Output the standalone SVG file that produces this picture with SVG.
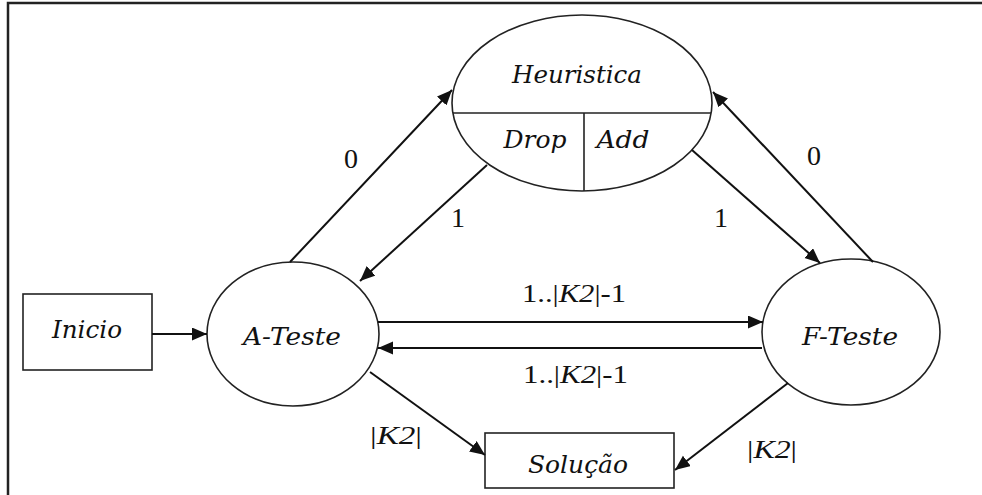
<svg xmlns="http://www.w3.org/2000/svg" width="982" height="495" viewBox="0 0 982 495">
<style>
.shape{fill:#fff;stroke:#222;stroke-width:1.6}
.div{stroke:#222;stroke-width:1.6;fill:none}
.node{font-family:"DejaVu Serif","Liberation Serif",serif;font-style:italic;font-size:24px;fill:#111}
.lbl{font-family:"Liberation Serif","Times New Roman",serif;font-size:25px;fill:#111}
.kk{font-family:"Liberation Serif","Times New Roman",serif;font-size:26px;fill:#111}
.big{font-family:"Liberation Serif","Times New Roman",serif;font-size:28px;fill:#111}
.it{font-style:italic}
.conn line{stroke:#111;stroke-width:2}
</style>
<defs>
<marker id="ah" markerUnits="userSpaceOnUse" markerWidth="16" markerHeight="14" refX="15" refY="6.5" orient="auto">
<path d="M0,0 L15,6.5 L0,13 z" fill="#111"/>
</marker>
</defs>
<rect x="0" y="0" width="982" height="495" fill="#fff"/>
<path d="M8,495 V3 H982" fill="none" stroke="#222" stroke-width="2.5"/>

<g id="heuristica">
<ellipse class="shape" cx="582" cy="103" rx="130" ry="88"/>
<line class="div" x1="453" y1="113" x2="711" y2="113"/>
<line class="div" x1="584" y1="113" x2="584" y2="191"/>
<text class="node" x="577" y="83" text-anchor="middle" textLength="130" lengthAdjust="spacingAndGlyphs">Heuristica</text>
<text class="node" x="535" y="148" text-anchor="middle" textLength="63" lengthAdjust="spacingAndGlyphs">Drop</text>
<text class="node" x="623" y="148" text-anchor="middle" textLength="53" lengthAdjust="spacingAndGlyphs">Add</text>
</g>

<g id="inicio">
<rect class="shape" x="23" y="294" width="129" height="76"/>
<text class="node" x="87" y="338" text-anchor="middle" textLength="70" lengthAdjust="spacingAndGlyphs">Inicio</text>
</g>

<g id="ateste">
<ellipse class="shape" cx="293" cy="334" rx="86" ry="72"/>
<text class="node" x="292" y="345" text-anchor="middle" textLength="98" lengthAdjust="spacingAndGlyphs">A-Teste</text>
</g>

<g id="fteste">
<ellipse class="shape" cx="851" cy="332" rx="89" ry="73"/>
<text class="node" x="850" y="345" text-anchor="middle" textLength="96" lengthAdjust="spacingAndGlyphs">F-Teste</text>
</g>

<g id="solucao">
<rect class="shape" x="485" y="433" width="189" height="55"/>
<text class="node" x="578" y="473" text-anchor="middle" textLength="100" lengthAdjust="spacingAndGlyphs">Solução</text>
</g>

<g id="connectors" class="conn">
<line x1="152" y1="334" x2="207" y2="334" marker-end="url(#ah)"/>
<line x1="378" y1="322" x2="763" y2="322" marker-end="url(#ah)"/>
<line x1="762" y1="348" x2="378" y2="348" marker-end="url(#ah)"/>
<line x1="370" y1="372" x2="485" y2="455" marker-end="url(#ah)"/>
<line x1="788" y1="383" x2="675" y2="470" marker-end="url(#ah)"/>
<line x1="290" y1="262" x2="452" y2="90" marker-end="url(#ah)"/>
<line x1="487" y1="165" x2="360" y2="281" marker-end="url(#ah)"/>
<line x1="692" y1="150" x2="820" y2="263" marker-end="url(#ah)"/>
<line x1="873" y1="262" x2="713" y2="92" marker-end="url(#ah)"/>
</g>

<g id="labels">
<text class="big" x="351" y="168" text-anchor="middle">0</text>
<text class="big" x="458" y="227" text-anchor="middle">1</text>
<text class="big" x="721" y="227" text-anchor="middle">1</text>
<text class="big" x="814" y="165" text-anchor="middle">0</text>
<text class="lbl" x="522" y="302" textLength="104" lengthAdjust="spacingAndGlyphs">1..|<tspan class="it">K2</tspan>|-1</text>
<text class="lbl" x="523" y="383" textLength="105" lengthAdjust="spacingAndGlyphs">1..|<tspan class="it">K2</tspan>|-1</text>
<text class="kk" x="370" y="444" textLength="52" lengthAdjust="spacingAndGlyphs">|<tspan class="it">K2</tspan>|</text>
<text class="kk" x="747" y="458" textLength="50" lengthAdjust="spacingAndGlyphs">|<tspan class="it">K2</tspan>|</text>
</g>
</svg>
